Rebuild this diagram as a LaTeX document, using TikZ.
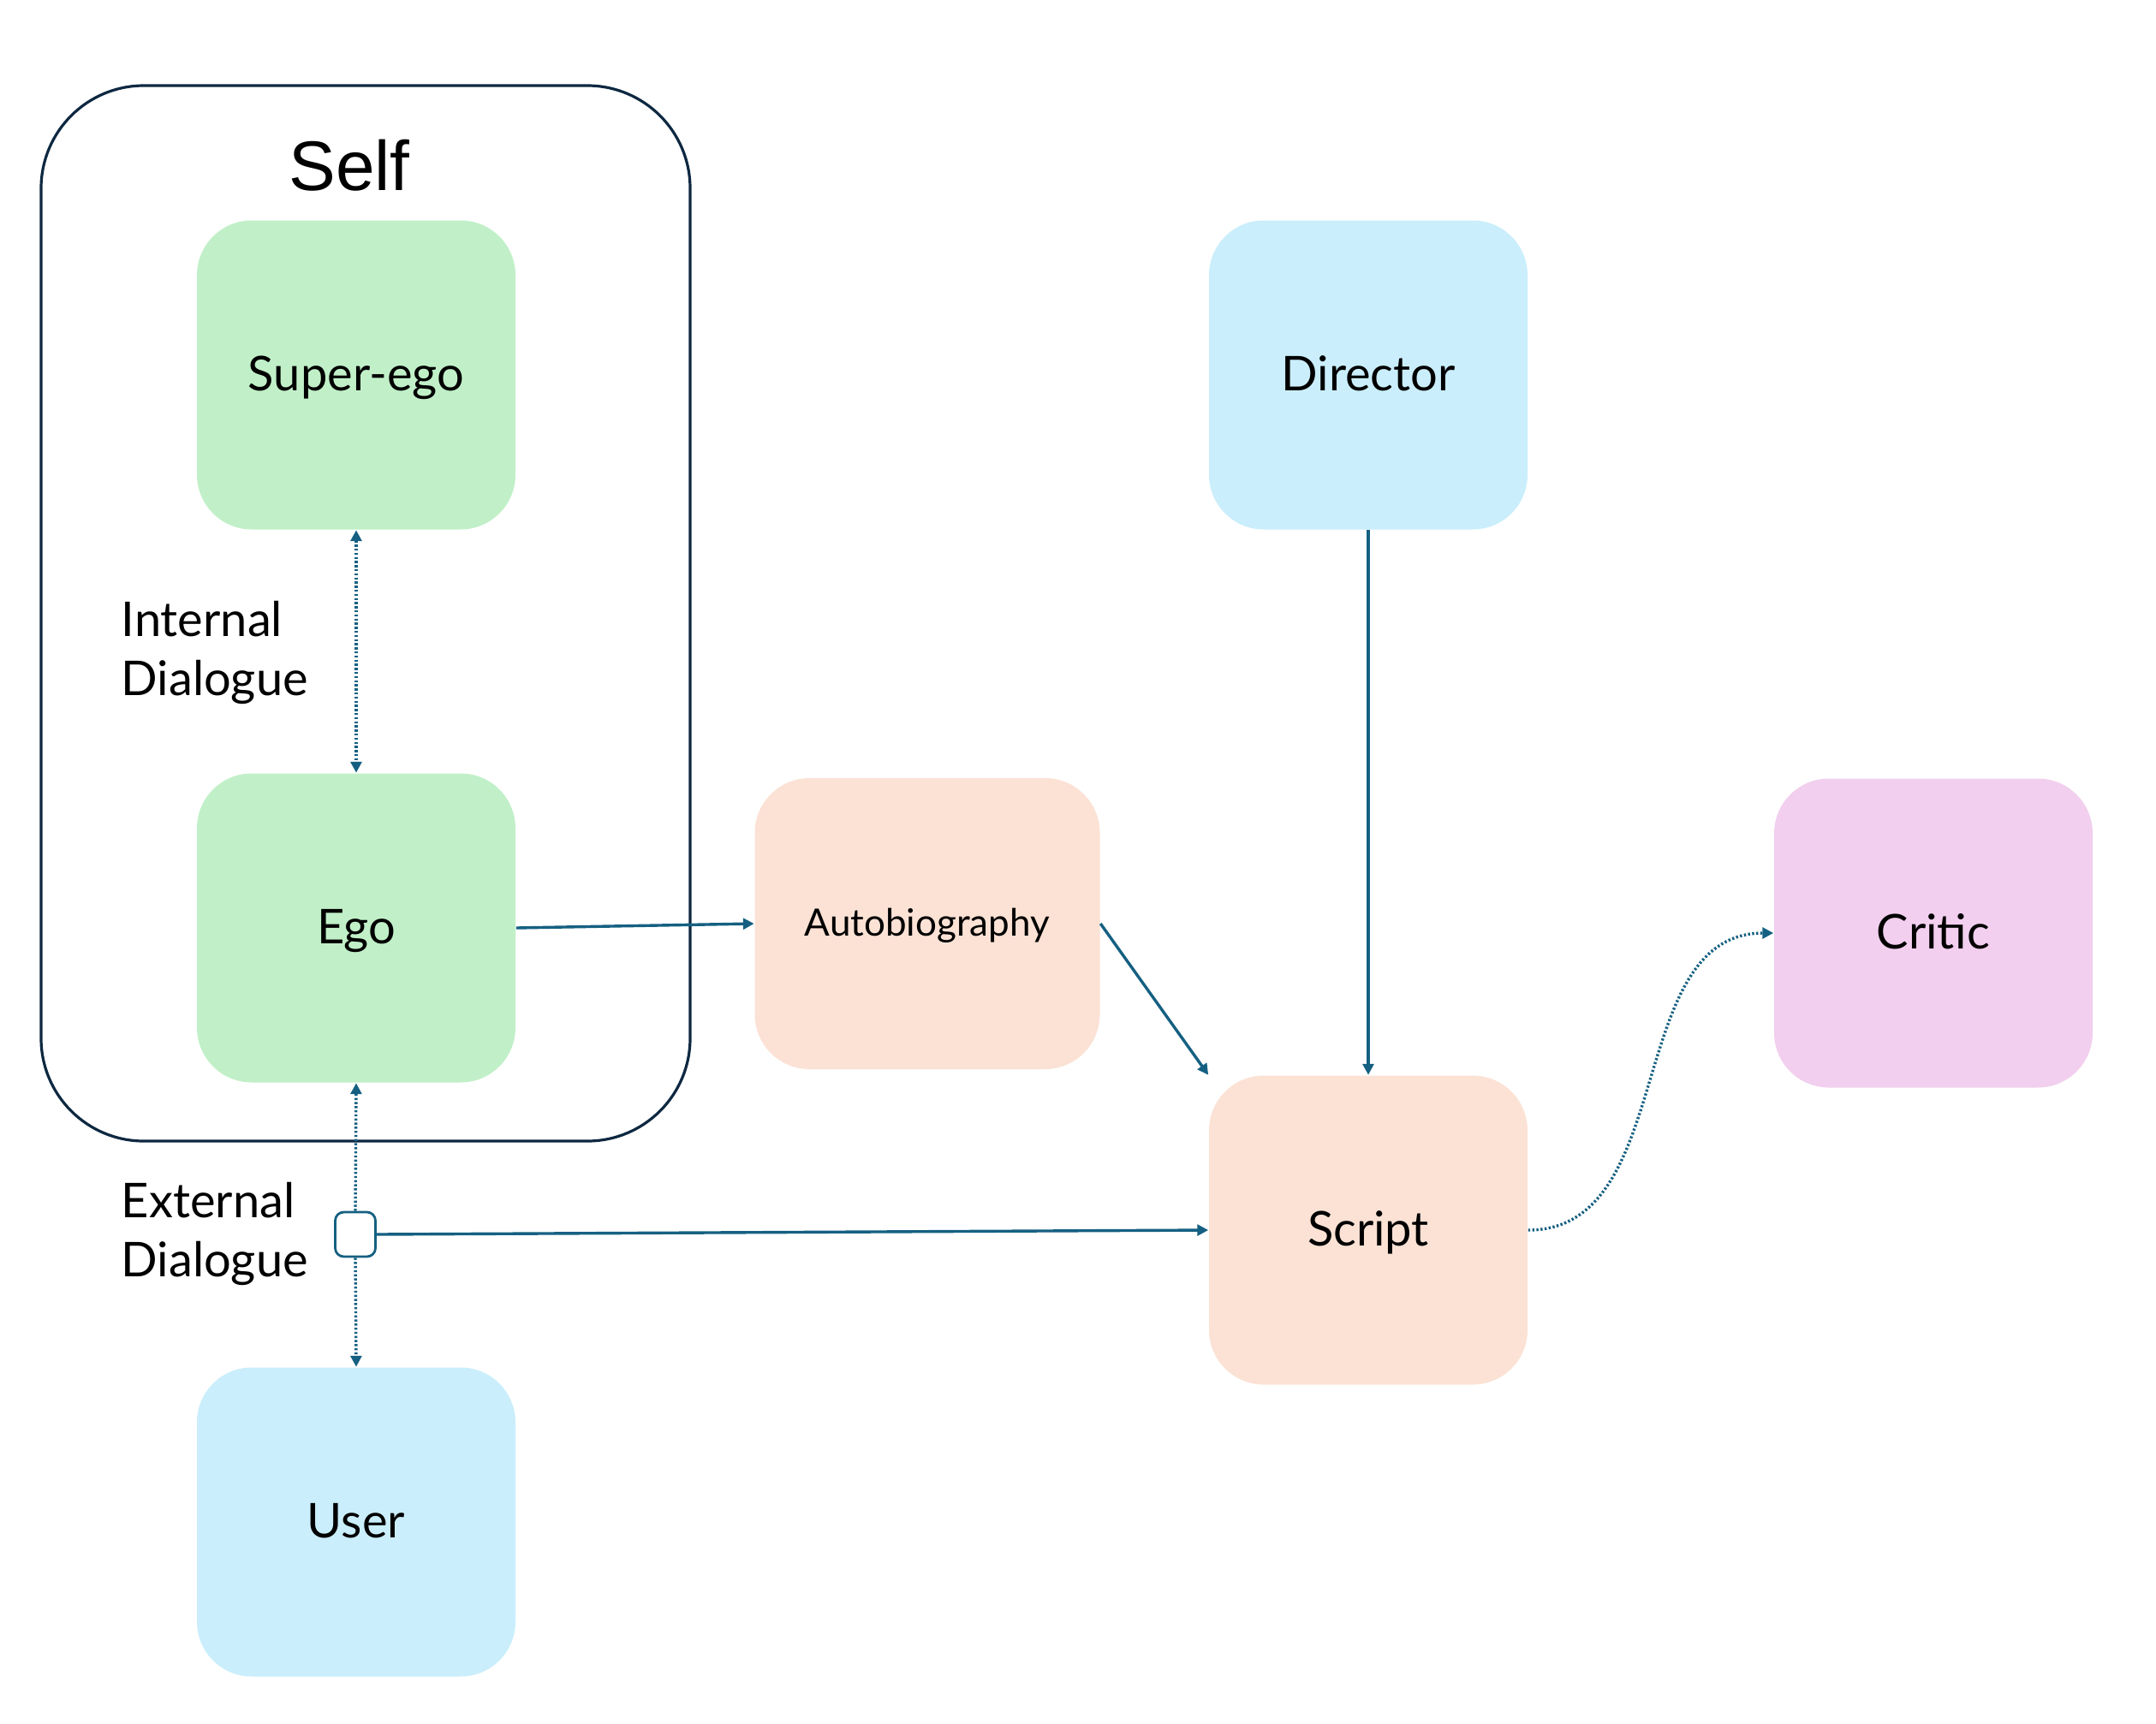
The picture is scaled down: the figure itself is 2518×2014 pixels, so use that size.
\documentclass[tikz,border=0pt]{standalone}
\usepackage{fontspec}
\setmainfont{Lato}
\newfontfamily\selffont{Liberation Sans}
\usetikzlibrary{arrows.meta}
\definecolor{cgreen}{HTML}{C1F0C8}
\definecolor{cblue}{HTML}{CAEEFB}
\definecolor{cpeach}{HTML}{FBE2D5}
\definecolor{cpink}{HTML}{F2CFEE}
\definecolor{carrow}{HTML}{156082}
\definecolor{cborder}{HTML}{0E2841}
\tikzset{
  boxbase/.style={rectangle, rounded corners=16pt, inner sep=0pt, minimum width=93pt, minimum height=90.25pt, font=\fontsize{14}{17}\selectfont, text height=11pt, text depth=1.6pt},
  greenbox/.style={boxbase, fill=cgreen},
  bluebox/.style={boxbase, fill=cblue},
  peachbox/.style={boxbase, fill=cpeach},
  pinkbox/.style={boxbase, fill=cpink},
  conn/.style={draw=carrow, line width=0.85pt, -{Triangle[width=3.2pt,length=3.2pt]}},
  dotconn/.style={conn, dash pattern=on 0.6pt off 0.6pt},
  lbl/.style={anchor=west, inner sep=0pt, align=left, font=\fontsize{14}{17.25}\selectfont},
}
\begin{document}
\begin{tikzpicture}[x=0.25pt,y=-0.25pt]
\useasboundingbox (0,0) rectangle (2518,2014);
\fill[white] (0,0) rectangle (2518,2014);
% Self container
\draw[cborder, line width=0.8pt, rounded corners=30pt] (48,100) rectangle (806,1333);
\node[font=\selffont\fontsize{20.5}{24}\selectfont] (self) at (408,193) {Self};
% boxes
\node[greenbox] (superego) at (416,438) {Super-ego};
\node[greenbox] (ego) at (416,1084) {Ego};
\node[bluebox] (user) at (416,1778) {User};
\node[bluebox] (director) at (1598,438) {Director};
\node[peachbox, minimum width=100.75pt, minimum height=85pt, font=\fontsize{11}{13}\selectfont, text height=8.6pt, text depth=1.2pt] (auto) at (1083,1079) {Autobiography};
\node[peachbox] (script) at (1598,1437) {Script};
\node[pinkbox] (critic) at (2258,1090) {Critic};
% labels
\node[lbl] (intdlg) at (141,762) {Internal\\Dialogue};
\node[lbl] (extdlg) at (141,1441) {External\\Dialogue};
% junction square
\node[draw=carrow, fill=white, line width=0.7pt, rounded corners=2.5pt, minimum width=11.75pt, minimum height=13pt, inner sep=0pt] (sq) at (415,1442) {};
% connectors
\draw[dotconn, {Triangle[width=3.2pt,length=3.2pt]}-{Triangle[width=3.2pt,length=3.2pt]}] (superego.south) -- (ego.north);
\draw[dotconn] (sq.north) -- (ego.south);
\draw[dotconn] (sq.south) -- (user.north);
\draw[conn] (ego.east) -- (auto.west);
\draw[conn] (auto.east) -- (script.north west);
\draw[conn] (director.south) -- (script.north);
\draw[conn] (sq.east) -- (script.west);
\draw[dotconn] (script.east) to[out=0,in=180] (critic.west);
\end{tikzpicture}
\end{document}
